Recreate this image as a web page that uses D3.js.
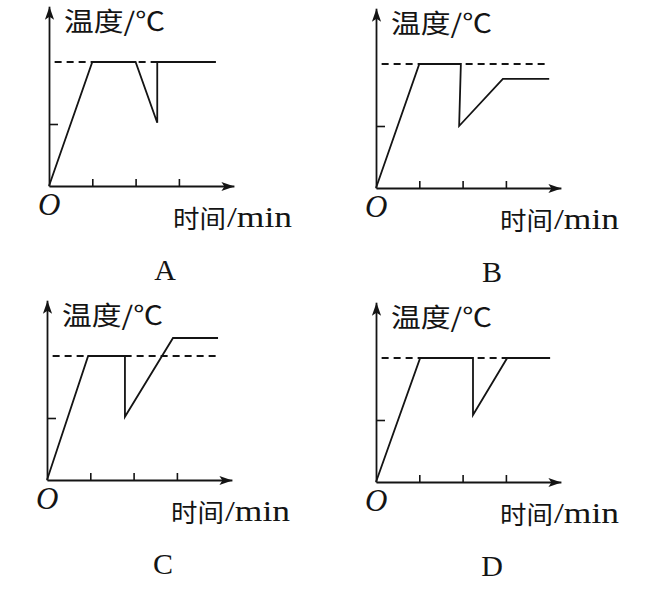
<!DOCTYPE html>
<html>
<head>
<meta charset="utf-8">
<script src="https://cdn.jsdelivr.net/npm/d3@7"></script>
<style>
  html, body { margin: 0; padding: 0; background: #fff; }
  svg { display: block; }
</style>
</head>
<body>
<svg id="chart" width="666" height="590"></svg>
<script>
// ---- data ----
const panelNames = ["A", "B", "C", "D"];
const xTicks = [1, 2, 3];
const yTicks = [1];
const dashedLevel = 2;
const yLabel = "温度/℃";
const xLabelCJK = "时间";
const xLabelUnit = "/min";
const originLabel = "O";
// time (tick units), temperature (tick units)
const seriesA = [[0, 0], [1, 2], [2, 2], [2.5, 1.02], [2.5, 2], [3.85, 2]];
const seriesB = [[0, 0], [1, 2], [1.96, 2], [1.92, 1], [2.93, 1.76], [4.0, 1.76]];
const seriesC = [[0, 0], [0.95, 2], [1.8, 2], [1.8, 1.02], [2.91, 2.29], [3.95, 2.29]];
const seriesD = [[0, 0], [1.02, 2], [2.24, 2], [2.24, 1.08], [3.03, 2], [4.02, 2]];
const dashedSpan = [[0.13, 3.85], [0.13, 4.0], [0.13, 3.95], [0.13, 4.02]];
const xMax = 4.27, yMax = 2.9;

// ---- layout ----
const origins = [[49, 186], [376, 188], [47, 480], [376, 482]];
const unitX = 43.3, unitY = 62;
const allSeries = [seriesA, seriesB, seriesC, seriesD];

const svg = d3.select("#chart");
const ink = "#141414";
const serif = "'Liberation Serif', 'Times New Roman', serif";
const cjk = "'Noto Sans CJK SC', sans-serif";

const defs = svg.append("defs");
defs.append("marker")
  .attr("id", "arrow")
  .attr("markerUnits", "userSpaceOnUse")
  .attr("viewBox", "0 -6 14 12")
  .attr("refX", 13).attr("refY", 0)
  .attr("markerWidth", 14).attr("markerHeight", 12)
  .attr("orient", "auto")
  .append("path")
  .attr("d", "M0,-4.6L13,0L0,4.6L3,0Z")
  .attr("fill", ink);

panelNames.forEach((name, i) => {
  const [ox, oy] = origins[i];
  const x = d3.scaleLinear().domain([0, xMax]).range([ox, ox + xMax * unitX]);
  const y = d3.scaleLinear().domain([0, yMax]).range([oy, oy - yMax * unitY]);
  const g = svg.append("g");

  // x axis
  const gx = g.append("g")
    .attr("transform", `translate(0,${oy})`)
    .call(d3.axisBottom(x).tickValues(xTicks).tickSize(-7).tickSizeOuter(0).tickFormat(""));
  // y axis
  const gy = g.append("g")
    .attr("transform", `translate(${ox},0)`)
    .call(d3.axisLeft(y).tickValues(yTicks).tickSize(-9).tickSizeOuter(0).tickFormat(""));
  [gx, gy].forEach(a => {
    a.select(".domain").attr("stroke", ink).attr("stroke-width", 1.8).attr("marker-end", "url(#arrow)");
    a.selectAll(".tick line").attr("stroke", ink).attr("stroke-width", 1.6);
  });

  // dashed reference level
  g.append("line")
    .attr("x1", x(dashedSpan[i][0])).attr("x2", x(dashedSpan[i][1]))
    .attr("y1", y(dashedLevel)).attr("y2", y(dashedLevel))
    .attr("stroke", ink).attr("stroke-width", 1.8)
    .attr("stroke-dasharray", "7,5");

  // temperature curve
  g.append("path")
    .datum(allSeries[i])
    .attr("d", d3.line().x(d => x(d[0])).y(d => y(d[1])))
    .attr("fill", "none").attr("stroke", ink)
    .attr("stroke-width", 1.8).attr("stroke-linejoin", "miter");

  // y label
  g.append("text")
    .attr("x", ox + 15).attr("y", oy - 155)
    .attr("textLength", 101).attr("lengthAdjust", "spacingAndGlyphs")
    .attr("font-family", cjk)
    .attr("font-size", 26).attr("fill", ink)
    .text(yLabel);

  // x label: CJK part and unit part
  g.append("text")
    .attr("x", ox + 124).attr("y", oy + 42)
    .attr("textLength", 53).attr("lengthAdjust", "spacingAndGlyphs")
    .attr("font-family", cjk)
    .attr("font-size", 25).attr("fill", ink)
    .text(xLabelCJK);
  g.append("text")
    .attr("x", ox + 178).attr("y", oy + 41)
    .attr("textLength", 65).attr("lengthAdjust", "spacingAndGlyphs")
    .attr("font-family", serif)
    .attr("font-size", 29).attr("fill", ink)
    .text(xLabelUnit);

  // origin label
  g.append("text")
    .attr("x", ox - 11).attr("y", oy + 29)
    .attr("font-family", serif)
    .attr("font-style", "italic")
    .attr("font-size", 31).attr("fill", ink)
    .text(originLabel);

  // panel letter
  g.append("text")
    .attr("x", ox + 116).attr("y", oy + 94)
    .attr("text-anchor", "middle")
    .attr("font-family", serif)
    .attr("font-size", 30).attr("fill", ink)
    .text(name);
});
</script>
</body>
</html>
